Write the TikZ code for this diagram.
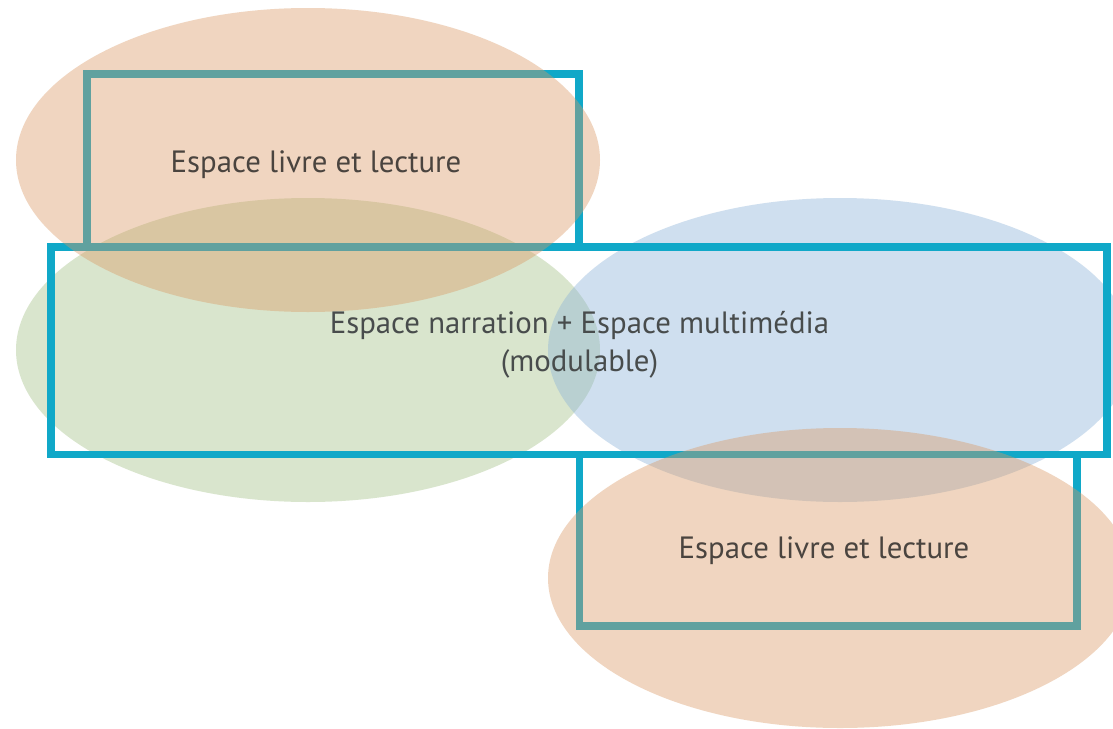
\documentclass[tikz,border=0pt]{standalone}
\usepackage{fontspec}
\setmainfont{PT Sans}
\usetikzlibrary{shapes.geometric}
\definecolor{peach}{RGB}{218,152,98}
\definecolor{sage}{RGB}{162,192,132}
\definecolor{sky}{RGB}{137,177,215}
\definecolor{cyanline}{RGB}{16,168,200}
\definecolor{txt}{RGB}{74,68,63}
\definecolor{txtb}{RGB}{72,76,76}
\tikzset{
  blob/.style={ellipse, inner sep=0pt, draw=none, fill opacity=0.4, minimum width=584pt, minimum height=304pt},
  frame/.style={draw=cyanline, line width=7.7pt, inner sep=0pt},
  label/.style={font=\fontsize{30.8}{37.5}\selectfont, text=#1, inner sep=0pt, align=center}
}
\begin{document}
\begin{tikzpicture}[x=1pt,y=-1pt]
\useasboundingbox (0,0) rectangle (1113,728);
\clip (0,0) rectangle (1113,728);
\fill[white] (0,0) rectangle (1113,728);
% lower ellipses
\node[blob, fill=sage] (green) at (308,350) {};
\node[blob, fill=sky] (blue) at (840,350) {};
% frames
\node[frame, minimum width=492pt, minimum height=173pt] (topframe) at (333,160.5) {};
\node[frame, minimum width=1056pt, minimum height=207.5pt] (midframe) at (579,350.75) {};
\node[frame, minimum width=497.5pt, minimum height=171.5pt] (botframe) at (828.25,540.25) {};
% upper ellipses
\node[blob, fill=peach] (orangetop) at (308,160) {};
\node[blob, fill=peach, minimum height=300pt] (orangebot) at (840,578) {};
% texts
\node[label=txt, anchor=base] (t1) at (316,172.3) {Espace livre et lecture};
\node[label=txtb, anchor=base] (t2) at (579.5,371) {Espace narration + Espace multimédia\\(modulable)};
\node[label=txt, anchor=base] (t3) at (824,558) {Espace livre et lecture};
\end{tikzpicture}
\end{document}
